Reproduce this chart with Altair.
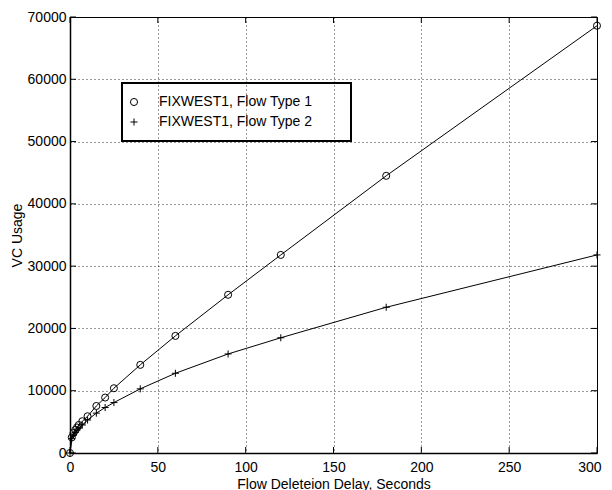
import altair as alt
import pandas as pd

# ---- data ----
delays = [0, 1, 2, 3, 4, 5, 7, 10, 15, 20, 25, 40, 60, 90, 120, 180, 300]
flow_type1 = [0, 2500, 3200, 3700, 4100, 4500, 5100, 5900, 7550, 8900, 10400,
              14150, 18800, 25400, 31800, 44500, 68600]
flow_type2 = [0, 2300, 2900, 3300, 3700, 4000, 4500, 5300, 6400, 7300, 8100,
              10300, 12800, 15900, 18500, 23400, 31800]
series_names = ["FIXWEST1, Flow Type 1", "FIXWEST1, Flow Type 2"]
x_ticks = [0, 50, 100, 150, 200, 250, 300]
y_ticks = [0, 10000, 20000, 30000, 40000, 50000, 60000, 70000]

df = pd.DataFrame({
    "delay": delays + delays,
    "vc": flow_type1 + flow_type2,
    "series": [series_names[0]] * len(delays) + [series_names[1]] * len(delays),
})
xt = pd.DataFrame({"delay": x_ticks})
yt = pd.DataFrame({"vc": y_ticks})

W, H = 527, 436
FONT = "Liberation Sans"
TL = 6  # inward tick length

xscale = alt.Scale(domain=[0, 300], nice=False, zero=False)
yscale = alt.Scale(domain=[0, 70000], nice=False)

x_axis = alt.Axis(title="Flow Deleteion Delay, Seconds", values=x_ticks, format="d",
                  labelFlush=True, labelFlushOffset=4, labelPadding=7, titlePadding=3)
y_axis = alt.Axis(title="VC Usage", values=y_ticks, format="d",
                  labelFlush=False, labelPadding=4, titlePadding=3)

X = lambda f="delay": alt.X(f"{f}:Q", scale=xscale, axis=x_axis)
Y = lambda f="vc": alt.Y(f"{f}:Q", scale=yscale, axis=y_axis)

rule_style = dict(color="black", strokeWidth=1)
tick_b = alt.Chart(xt).mark_rule(**rule_style).encode(x=X(), y=alt.value(H), y2=alt.value(H - TL))
tick_t = alt.Chart(xt).mark_rule(**rule_style).encode(x=X(), y=alt.value(0), y2=alt.value(TL))
tick_l = alt.Chart(yt).mark_rule(**rule_style).encode(y=Y(), x=alt.value(0), x2=alt.value(TL))
tick_r = alt.Chart(yt).mark_rule(**rule_style).encode(y=Y(), x=alt.value(W), x2=alt.value(W - TL))

lines = alt.Chart(df).mark_line(color="black", strokeWidth=1).encode(
    x=X(), y=Y(), detail="series:N"
)

points = alt.Chart(df).mark_point(filled=False, color="black", strokeWidth=1, size=50, opacity=1).encode(
    x=X(), y=Y(),
    shape=alt.Shape(
        "series:N",
        scale=alt.Scale(domain=series_names, range=["circle", "M-1,0L1,0M0,-1L0,1"]),
        legend=alt.Legend(
            title=".", orient="none", legendX=52, legendY=66,
            titleOrient="right", titleOpacity=0, titlePadding=23,
            symbolOffset=-7, labelOffset=18, padding=12, rowPadding=6,
        ),
    ),
)

chart = alt.layer(tick_b, tick_t, tick_l, tick_r, lines, points).properties(
    width=W, height=H,
    autosize=alt.AutoSizeParams(type="none"),
    padding={"left": 70, "top": 17, "right": 15, "bottom": 37},
    background="white",
).configure_view(
    stroke="black", strokeWidth=1
).configure_axis(
    grid=True, gridColor="black", gridDash=[1, 3], gridWidth=1, gridOpacity=0.8,
    domain=True, domainColor="black", domainWidth=1.5, ticks=False,
    labelFont=FONT, labelFontSize=14, labelColor="black",
    titleFont=FONT, titleFontSize=14, titleFontWeight="normal", titleColor="black",
).configure_legend(
    strokeColor="black", strokeWidth=2, fillColor="transparent",
    labelFont=FONT, labelFontSize=14, labelColor="black", labelLimit=400,
    titleFont=FONT, titleFontSize=14,
    symbolStrokeColor="black", symbolFillColor="transparent", symbolStrokeWidth=1,
    symbolSize=50,
)

chart.save("out.html", embed_options={"renderer": "svg", "actions": False})
